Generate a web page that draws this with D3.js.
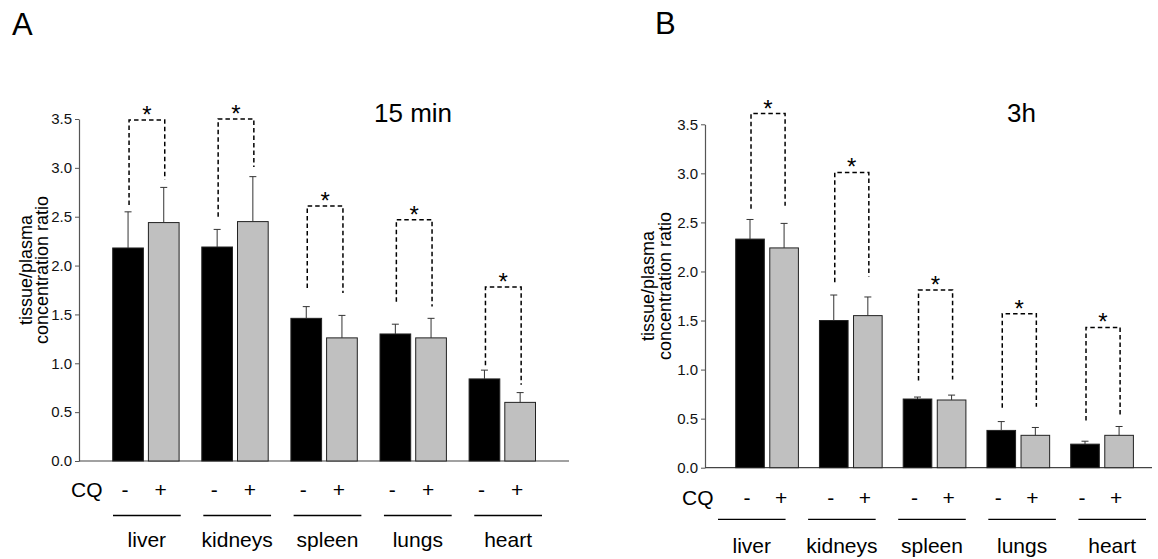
<!DOCTYPE html>
<html>
<head>
<meta charset="utf-8">
<script src="https://cdn.jsdelivr.net/npm/d3@7/dist/d3.min.js"></script>
<style>
  html, body { margin: 0; padding: 0; background: #fff; }
  svg { display: block; font-family: "Liberation Sans", Arial, Helvetica, sans-serif; }
</style>
</head>
<body>
<svg id="chart" width="1158" height="559"></svg>
<script>
// Tissue/plasma concentration ratio without (-) and with (+) CQ
const organs = ["liver", "kidneys", "spleen", "lungs", "heart"];
const cqGroups = ["-", "+"];
const yTicks = [0, 0.5, 1.0, 1.5, 2.0, 2.5, 3.0, 3.5];

// Panel A: 15 min
const min15NoCQ = [2.18, 2.19, 1.46, 1.30, 0.84];
const min15NoCQErr = [0.37, 0.18, 0.12, 0.10, 0.09];
const min15CQ = [2.44, 2.45, 1.26, 1.26, 0.60];
const min15CQErr = [0.36, 0.46, 0.23, 0.20, 0.10];
// significance brackets (top, left leg end, right leg end)
const min15SigTop = [3.49, 3.50, 2.61, 2.47, 1.78];
const min15SigLeft = [2.62, 2.50, 1.77, 1.63, 0.98];
const min15SigRight = [2.88, 3.01, 1.72, 1.58, 0.78];

// Panel B: 3 h
const h3NoCQ = [2.33, 1.50, 0.70, 0.38, 0.24];
const h3NoCQErr = [0.20, 0.26, 0.02, 0.09, 0.03];
const h3CQ = [2.24, 1.55, 0.69, 0.33, 0.33];
const h3CQErr = [0.25, 0.19, 0.05, 0.08, 0.09];
const h3SigTop = [3.61, 3.01, 1.81, 1.57, 1.43];
const h3SigLeft = [2.64, 1.89, 0.89, 0.61, 0.48];
const h3SigRight = [2.67, 1.95, 0.90, 0.62, 0.53];

const svg = d3.select("#chart");
const barFill = { "-": "#000000", "+": "#c0c0c0" };

function drawPanel(p) {
  const g = svg.append("g");

  const y = d3.scaleLinear().domain([0, 3.5]).range([p.yBottom, p.yTop]);

  // group band scale: bandwidth = two bars plus inner gap
  const x = d3.scaleBand().domain(organs)
    .range([p.barStart, p.barEnd]).paddingInner(p.groupPad).paddingOuter(0).align(0);
  const xi = d3.scaleBand().domain(cqGroups)
    .range([0, x.bandwidth()]).paddingInner(p.barPad).paddingOuter(0);

  // label-row band scale (underline + organ names)
  const xl = d3.scaleBand().domain(organs)
    .range([p.labelStart, p.labelEnd]).paddingInner(p.labelPad).paddingOuter(0);

  const rows = organs.map((o, i) => ({
    organ: o,
    vals: [
      { cq: "-", v: p.noCQ[i], e: p.noCQErr[i] },
      { cq: "+", v: p.cq[i], e: p.cqErr[i] }
    ],
    top: p.sigTop[i], left: p.sigLeft[i], right: p.sigRight[i]
  }));

  // y axis
  const yAxis = d3.axisLeft(y).tickValues(yTicks).tickFormat(d3.format(".1f"))
    .tickSize(4).tickPadding(3).tickSizeOuter(0);
  const ya = g.append("g").attr("transform", `translate(${p.axisX},0)`).call(yAxis);
  ya.select(".domain").attr("stroke", "#555").attr("stroke-width", 1.2);
  ya.selectAll(".tick line").attr("stroke", "#555");
  ya.selectAll(".tick text").attr("font-size", 15).attr("fill", "#111")
    .attr("font-family", "Liberation Sans, Arial, sans-serif");

  // baseline
  g.append("line")
    .attr("x1", p.axisX).attr("x2", p.baseEnd)
    .attr("y1", y(0)).attr("y2", y(0))
    .attr("stroke", "#444").attr("stroke-width", 1.2);

  // bars
  const grp = g.selectAll(".grp").data(rows).join("g")
    .attr("transform", d => `translate(${x(d.organ)},0)`);

  grp.selectAll("rect").data(d => d.vals).join("rect")
    .attr("x", d => xi(d.cq))
    .attr("width", xi.bandwidth())
    .attr("y", d => y(d.v))
    .attr("height", d => y(0) - y(d.v))
    .attr("fill", d => barFill[d.cq])
    .attr("stroke", "#222").attr("stroke-width", 1);

  // error bars (upper only)
  const eb = grp.selectAll(".err").data(d => d.vals).join("g");
  eb.append("line")
    .attr("x1", d => xi(d.cq) + xi.bandwidth() / 2)
    .attr("x2", d => xi(d.cq) + xi.bandwidth() / 2)
    .attr("y1", d => y(d.v)).attr("y2", d => y(d.v + d.e))
    .attr("stroke", "#333").attr("stroke-width", 1);
  eb.append("line")
    .attr("x1", d => xi(d.cq) + xi.bandwidth() / 2 - 3.5)
    .attr("x2", d => xi(d.cq) + xi.bandwidth() / 2 + 3.5)
    .attr("y1", d => y(d.v + d.e)).attr("y2", d => y(d.v + d.e))
    .attr("stroke", "#333").attr("stroke-width", 1);

  // significance brackets
  const lx = d => xi("-") + xi.bandwidth() / 2 + 1;
  const rx = d => xi("+") + xi.bandwidth() / 2 + 1;
  grp.append("path")
    .attr("d", d => `M${lx(d)},${y(d.left)}V${y(d.top)}H${rx(d)}V${y(d.right)}`)
    .attr("fill", "none").attr("stroke", "#000")
    .attr("stroke-width", 1.5).attr("stroke-dasharray", "4.5,3");
  grp.append("text")
    .attr("x", d => (lx(d) + rx(d)) / 2)
    .attr("y", d => y(d.top) + 3)
    .attr("text-anchor", "middle").attr("font-size", 24).attr("fill", "#000")
    .text("*");

  // CQ row
  g.append("text").attr("x", p.cqX).attr("y", p.cqY)
    .attr("font-size", 21).attr("fill", "#000").text("CQ");
  grp.selectAll(".sign").data(d => d.vals).join("text")
    .attr("x", d => xi(d.cq) + xi.bandwidth() / 2 - 3)
    .attr("y", p.cqY)
    .attr("text-anchor", "middle").attr("font-size", 21).attr("fill", "#000")
    .text(d => d.cq);

  // underline and organ names
  g.selectAll(".uline").data(organs).join("line")
    .attr("x1", d => xl(d)).attr("x2", d => xl(d) + xl.bandwidth())
    .attr("y1", p.lineY).attr("y2", p.lineY)
    .attr("stroke", "#000").attr("stroke-width", 1.3);
  g.selectAll(".oname").data(organs).join("text")
    .attr("x", d => xl(d) + xl.bandwidth() / 2)
    .attr("y", p.nameY)
    .attr("text-anchor", "middle").attr("font-size", 21).attr("fill", "#000")
    .text(d => d);

  // y axis title (two lines)
  const yMid = (p.yBottom + p.yTop) / 2 + p.titleShift;
  ["tissue/plasma", "concentration ratio"].forEach((t, i) => {
    g.append("text")
      .attr("transform", `translate(${p.yLabelX[i]},${yMid}) rotate(-90)`)
      .attr("dy", "0.35em")
      .attr("text-anchor", "middle").attr("font-size", 18).attr("fill", "#000")
      .text(t);
  });

  // time label and panel letter
  g.append("text").attr("x", p.timeX).attr("y", p.timeY)
    .attr("font-size", 26).attr("fill", "#000").text(p.time);
  g.append("text").attr("x", p.letterX).attr("y", p.letterY)
    .attr("font-size", 31).attr("fill", "#000").text(p.letter);
}

drawPanel({
  letter: "A", letterX: 12, letterY: 35,
  time: "15 min", timeX: 374, timeY: 122,
  noCQ: min15NoCQ, noCQErr: min15NoCQErr, cq: min15CQ, cqErr: min15CQErr,
  sigTop: min15SigTop, sigLeft: min15SigLeft, sigRight: min15SigRight,
  yTop: 119, yBottom: 461, axisX: 79, baseEnd: 569,
  barStart: 112.7, barEnd: 535.5, groupPad: 0.2548, barPad: 0.14,
  labelStart: 113, labelEnd: 542, labelPad: 0.25,
  cqX: 71, cqY: 497, lineY: 515.5, nameY: 547,
  yLabelX: [26, 42], titleShift: -20
});

drawPanel({
  letter: "B", letterX: 655, letterY: 34,
  time: "3h", timeX: 1007, timeY: 122,
  noCQ: h3NoCQ, noCQErr: h3NoCQErr, cq: h3CQ, cqErr: h3CQErr,
  sigTop: h3SigTop, sigLeft: h3SigLeft, sigRight: h3SigRight,
  yTop: 124.3, yBottom: 467.7, axisX: 705, baseEnd: 1152,
  barStart: 735.7, barEnd: 1133.4, groupPad: 0.2513, barPad: 0.16,
  labelStart: 718, labelEnd: 1146, labelPad: 0.25,
  cqX: 682, cqY: 505, lineY: 519.3, nameY: 553,
  yLabelX: [648, 665], titleShift: -10
});
</script>
</body>
</html>
